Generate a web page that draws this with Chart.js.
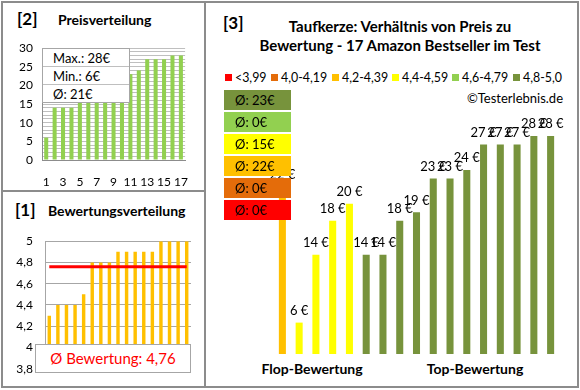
<!DOCTYPE html>
<html>
<head>
<meta charset="utf-8">
<script src="https://cdn.jsdelivr.net/npm/chart.js@4.4.0/dist/chart.umd.min.js"></script>
<style>
body { margin: 0; background: #fff; font-family: Lato, "Open Sans", sans-serif; color: #000; }
#seite { position: relative; width: 580px; height: 390px; overflow: hidden; background: #fff; }
#seite div, #seite canvas { position: absolute; }
.rahmen { left: 1px; top: 1px; width: 578px; height: 387px; box-sizing: border-box; border: 2px solid #8c8c8c; }
.nr { font-weight: bold; font-size: 17px; line-height: 20px; }
.ueber { font-weight: bold; font-size: 14px; line-height: 18px; white-space: nowrap; }
.infobox { left: 42px; top: 48px; width: 88px; height: 55px; box-sizing: border-box; border: 1px solid #a6a6a6; background: #fff; z-index: 2; }
.infobox div { position: relative !important; height: 18px; line-height: 18px; font-size: 13px; padding-left: 10px; border-bottom: 1px solid #bfbfbf; box-sizing: border-box; }
.infobox div:last-child { border-bottom: none; }
.schnittbox { left: 35px; top: 344px; width: 156px; height: 29px; box-sizing: border-box; border: 1px solid #a6a6a6; background: #fff; z-index: 2;
  color: #ff0000; font-size: 15px; line-height: 27px; text-align: center; }
.klasse { left: 224px; width: 67px; height: 20px; line-height: 20px; font-size: 13px; padding-left: 11px; box-sizing: border-box; z-index: 2; }
.leg { font-size: 12.4px; line-height: 14px; top: 71px; white-space: nowrap; }
.leg span { display: inline-block; width: 7px; height: 7px; margin-right: 3px; vertical-align: 1px; }
</style>
</head>
<body>
<div id="seite">
  <div class="rahmen"></div>
  <div style="left:204px; top:2px; width:2px; height:386px; background:#8c8c8c;"></div>
  <div style="left:2px; top:190px; width:203px; height:2px; background:#8c8c8c;"></div>

  <div class="nr" style="left:17px; top:9px;">[2]</div>
  <div class="ueber" style="left:58px; top:11px;">Preisverteilung</div>
  <div class="nr" style="left:15px; top:200px;">[1]</div>
  <div class="ueber" style="left:48px; top:202px;">Bewertungsverteilung</div>
  <div class="nr" style="left:223px; top:13px;">[3]</div>
  <div class="ueber" style="left:200px; width:400px; text-align:center; top:17px; font-size:15px;">Taufkerze: Verhältnis von Preis zu</div>
  <div class="ueber" style="left:200px; width:400px; text-align:center; top:36px; font-size:15px;">Bewertung - 17 Amazon Bestseller im Test</div>
  <div id="legende"></div>
  <div style="left:400px; width:163px; text-align:right; top:90px; font-size:13px; line-height:16px;">©Testerlebnis.de</div>
  <div class="ueber" style="left:252px; width:120px; text-align:center; top:360px;">Flop-Bewertung</div>
  <div class="ueber" style="left:415px; width:120px; text-align:center; top:360px;">Top-Bewertung</div>

  <canvas id="preisChart" width="195" height="162" style="left:0; top:30px;"></canvas>
  <canvas id="bewertungChart" width="195" height="166" style="left:0; top:222px;"></canvas>
  <canvas id="hauptChart" width="372" height="270" style="left:205px; top:100px;"></canvas>

  <div class="infobox" id="infobox"></div>
  <div class="schnittbox" id="schnittbox"></div>
  <div id="klassenboxen"></div>
</div>

<script>
// Preise und Bewertungen (sortiert fuer die kleinen Diagramme)
var produktNr = ["1", "2", "3", "4", "5", "6", "7", "8", "9", "10", "11", "12", "13", "14", "15", "16", "17"];
var preiseSortiert = [6, 14, 14, 14, 18, 18, 19, 20, 22, 23, 23, 24, 27, 27, 27, 28, 28];
var bewertungenSortiert = [4.3, 4.4, 4.4, 4.4, 4.5, 4.8, 4.8, 4.8, 4.9, 4.9, 4.9, 4.9, 4.9, 5.0, 5.0, 5.0, 5.0];

// Hauptdiagramm: Flop links, Top rechts
var testPreise = [22, 6, 14, 18, 20, 14, 14, 18, 19, 23, 23, 24, 27, 27, 27, 28, 28];
var testBewertungen = [4.3, 4.4, 4.4, 4.4, 4.5, 4.8, 4.8, 4.8, 4.9, 4.9, 4.9, 4.9, 4.9, 5.0, 5.0, 5.0, 5.0];

var klassen = ["<3,99", "4,0-4,19", "4,2-4,39", "4,4-4,59", "4,6-4,79", "4,8-5,0"];
var klassenGrenzen = [0, 4.0, 4.2, 4.4, 4.6, 4.8];
var klassenFarben = ["#FF0000", "#E46C0A", "#FFC000", "#FFFF00", "#92D050", "#77933C"];

function klasseVon(b) {
    var k = 0;
    for (var i = 0; i < klassenGrenzen.length; i++) {
        if (b >= klassenGrenzen[i] - 1e-9) k = i;
    }
    return k;
}

Chart.defaults.font.family = "Lato, 'Open Sans', sans-serif";
Chart.defaults.color = "#000";
Chart.defaults.animation = false;

// Legende
var legX = [225, 271, 332, 392, 452, 513];
var legHtml = "";
klassen.forEach(function (k, i) {
    legHtml += '<div class="leg" style="left:' + legX[i] + 'px"><span style="background:' + klassenFarben[i] + '"></span>' + k + '</div>';
});
document.getElementById("legende").innerHTML = legHtml;

// Durchschnitt je Klasse
var boxHtml = "";
for (var j = klassen.length - 1; j >= 0; j--) {
    var summe = 0, anz = 0;
    testPreise.forEach(function (p, i) {
        if (klasseVon(testBewertungen[i]) === j) { summe += p; anz++; }
    });
    var schnitt = anz ? Math.round(summe / anz) : 0;
    var pos = klassen.length - 1 - j;
    boxHtml += '<div class="klasse" style="top:' + (90 + pos * 22) + 'px; background:' + klassenFarben[j] + '">Ø: ' + schnitt + '€</div>';
}
document.getElementById("klassenboxen").innerHTML = boxHtml;

// Infobox Preise
var pSumme = preiseSortiert.reduce(function (a, b) { return a + b; }, 0);
document.getElementById("infobox").innerHTML =
    '<div>Max.: ' + Math.max.apply(null, preiseSortiert) + '€</div>' +
    '<div>Min.: ' + Math.min.apply(null, preiseSortiert) + '€</div>' +
    '<div>Ø: ' + Math.round(pSumme / preiseSortiert.length) + '€</div>';

var bSumme = bewertungenSortiert.reduce(function (a, b) { return a + b; }, 0);
var schnittBewertung = Math.round(bSumme / bewertungenSortiert.length * 100) / 100;
document.getElementById("schnittbox").innerHTML = 'Ø Bewertung: ' + schnittBewertung.toFixed(2).replace('.', ',');

// [2] Preisverteilung
new Chart(document.getElementById("preisChart").getContext("2d"), {
    type: "bar",
    data: {
        labels: produktNr,
        datasets: [{
            data: preiseSortiert,
            backgroundColor: "#92D050",
            barPercentage: 0.48,
            categoryPercentage: 1
        }]
    },
    options: {
        responsive: false,
        layout: { padding: { top: 18, right: 5, bottom: 0, left: 0 } },
        plugins: { legend: { display: false }, tooltip: { enabled: false } },
        scales: {
            x: {
                grid: { display: false },
                border: { color: "#8c8c8c" },
                ticks: {
                    autoSkip: false, maxRotation: 0, padding: 7, font: { size: 12 },
                    callback: function (v, i) { return i % 2 === 0 ? produktNr[i] : ""; }
                },
                afterFit: function (s) { s.height = 32; }
            },
            y: {
                min: 0, max: 30,
                grid: { color: "#bfbfbf", drawTicks: false },
                border: { color: "#8c8c8c" },
                ticks: {
                    stepSize: 1, autoSkip: false, padding: 9, font: { size: 12 },
                    callback: function (v) { return v % 5 === 0 ? v : ""; }
                },
                afterFit: function (s) { s.width = 42; }
            }
        }
    }
});

// [1] Bewertungsverteilung
new Chart(document.getElementById("bewertungChart").getContext("2d"), {
    type: "bar",
    data: {
        labels: produktNr,
        datasets: [{
            type: "line",
            data: produktNr.map(function () { return schnittBewertung; }),
            borderColor: "#FF0000",
            borderWidth: 3,
            pointRadius: 0,
            fill: false
        }, {
            data: bewertungenSortiert,
            backgroundColor: "#FFC000",
            barPercentage: 0.4,
            categoryPercentage: 1
        }]
    },
    options: {
        responsive: false,
        layout: { padding: { top: 16, right: 4, bottom: 15, left: 0 } },
        plugins: { legend: { display: false }, tooltip: { enabled: false } },
        scales: {
            x: { display: false },
            y: {
                min: 3.8, max: 5,
                grid: { color: "#a6a6a6", drawTicks: false },
                border: { color: "#a6a6a6" },
                ticks: {
                    stepSize: 0.2, autoSkip: false, padding: 12, font: { size: 12 },
                    callback: function (v) { return String(Number(v.toFixed(1))).replace('.', ','); }
                },
                afterFit: function (s) { s.width = 45; }
            }
        }
    }
});

// [3] Preis zu Bewertung
var preisLabels = {
    id: "preisLabels",
    afterDatasetsDraw: function (chart) {
        var ctx = chart.ctx;
        var meta = chart.getDatasetMeta(0);
        ctx.save();
        ctx.font = "13px Lato, 'Open Sans', sans-serif";
        ctx.fillStyle = "#000";
        ctx.textAlign = "center";
        ctx.textBaseline = "middle";
        meta.data.forEach(function (bar, i) {
            ctx.fillText(testPreise[i] + " €", bar.x, bar.y - 12);
        });
        ctx.restore();
    }
};

new Chart(document.getElementById("hauptChart").getContext("2d"), {
    type: "bar",
    data: {
        labels: produktNr,
        datasets: [{
            data: testPreise,
            backgroundColor: testBewertungen.map(function (b) { return klassenFarben[klasseVon(b)]; }),
            barPercentage: 0.42,
            categoryPercentage: 1
        }]
    },
    options: {
        responsive: false,
        layout: { padding: { top: 19, right: 18, bottom: 16, left: 69 } },
        plugins: { legend: { display: false }, tooltip: { enabled: false } },
        scales: {
            x: { display: false },
            y: { display: false, min: 2.3, max: 30 }
        }
    },
    plugins: [preisLabels]
});
</script>
</body>
</html>
